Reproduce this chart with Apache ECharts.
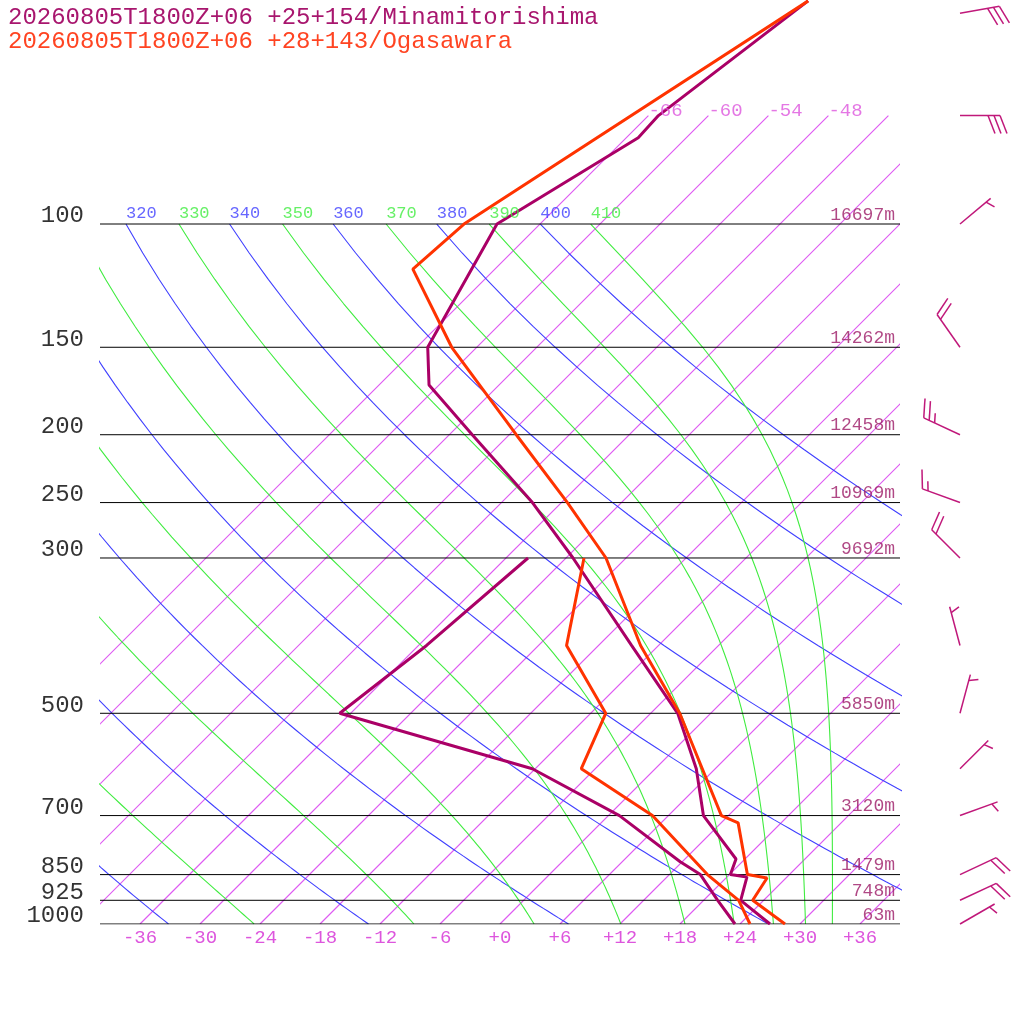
<!DOCTYPE html>
<html><head><meta charset="utf-8">
<script src="https://cdn.jsdelivr.net/npm/echarts@6/dist/echarts.min.js"></script>
<style>html,body{margin:0;padding:0;background:#fff}#c{width:1024px;height:1024px}</style>
</head><body><div id="c"></div>
<script>
// ---------- data ----------
const titleLines = ['20260805T1800Z+06 +25+154/Minamitorishima', '20260805T1800Z+06 +28+143/Ogasawara'];
const pressureLevels = [100, 150, 200, 250, 300, 500, 700, 850, 925, 1000];
const levelHeights = ['16697m', '14262m', '12458m', '10969m', '9692m', '5850m', '3120m', '1479m', '748m', '63m'];
const tempTicks = [-36, -30, -24, -18, -12, -6, 0, 6, 12, 18, 24, 30, 36];
const isotherms = [-66, -60, -54, -48, -42, -36, -30, -24, -18, -12, -6, 0, 6, 12, 18, 24, 30, 36];
const isothermLabels = [-66, -60, -54, -48];
const dryAdiabats = [240, 260, 280, 300, 320, 340, 360, 380, 400];
const dryLabels = [320, 340, 360, 380, 400];
const moistAdiabats = [250, 270, 290, 310, 330, 350, 370, 390, 410];
const moistLabels = [330, 350, 370, 390, 410];

// Minamitorishima
const minaP = [48, 70, 75.3, 100, 150, 169.8, 200, 250, 300, 400, 500, 600, 700, 807.5, 850, 857, 925, 1000];
const minaT = [-61.5, -65.0, -64.8, -70.3, -64.9, -61.0, -51.7, -38.9, -29.3, -14.7, -3.3, 4.1, 9.5, 17.1, 18.1, 20.0, 21.7, 27.0];
const minaTdP = [300, 400, 500, 600, 700, 815, 850, 925, 1000];
const minaTd = [-33.8, -35.2, -37.1, -12.3, 1.1, 11.8, 15.1, 19.4, 23.5];
// Ogasawara
const ogaP = [48, 100, 116, 150, 200, 250, 300, 400, 500, 600, 700, 717, 850, 859.5, 925, 1000];
const ogaT = [-61.5, -73.6, -74.2, -62.5, -47.3, -35.4, -26.0, -13.8, -3.1, 4.7, 11.3, 13.7, 19.8, 22.1, 22.9, 28.5];
const ogaTdP = [300, 400, 500, 600, 700, 850, 925, 1000];
const ogaTd = [-28.2, -21.2, -10.5, -7.4, 4.4, 15.8, 21.5, 25.0];
// winds (Minamitorishima)
const windP = [50, 70, 100, 150, 200, 250, 300, 400, 500, 600, 700, 850, 925, 1000];
const windDir = [80, 90, 50, 325, 295, 290, 315, 345, 15, 45, 70, 65, 65, 60];
const windSpd = [30, 30, 5, 20, 25, 15, 20, 5, 5, 5, 5, 20, 20, 5];

// ---------- diagram geometry ----------
const P_TOP = 47.86;           // pressure at top of plot
const SKEW = 30.4;             // 45 degree skew (deg per ln unit)
const ISO_TOP = 70, AD_TOP = 100;
function sx(T, p) { return T + SKEW * Math.log(1000 / p); }

const FONT = 'Liberation Mono';
const C_MINA = '#aa0066', C_OGA = '#ff3300';
const C_ISO = 'rgb(222, 90, 242)', C_DRY = 'rgb(64, 64, 255)', C_MOIST = 'rgb(64, 236, 64)';

const samplePs = [];
for (let p = 1000; p >= AD_TOP; p -= 10) samplePs.push(p);

function thetaESat(Tc, p) {
  const TK = Tc + 273.15;
  const es = 6.112 * Math.exp(17.67 * Tc / (Tc + 243.5));
  const r = 622 * es / (p - es);
  return TK * Math.pow(1000 / p, 0.2854 * (1 - 0.00028 * r)) *
    Math.exp((3.376 / TK - 0.00254) * r * (1 + 0.00081 * r));
}
function moistCurve(thE) {
  const out = []; let hi = 45;
  for (const p of samplePs) {
    let lo = -170, h = hi;
    for (let k = 0; k < 60; k++) {
      const m = (lo + h) / 2;
      if (thetaESat(m, p) > thE) h = m; else lo = m;
    }
    const T = (lo + h) / 2;
    out.push([sx(T, p), p]);
    hi = T + 1;
  }
  return out;
}
function dryT(th, p) { return th * Math.pow(p / 1000, 0.2857) - 273.15; }

const series = [];
function lineSeries(data, color, width, z) {
  return { type: 'line', data, symbol: 'none', silent: true, animation: false, color: color,
    lineStyle: { color, width }, z: z || 2, clip: true };
}
// isotherms: straight lines drawn through the axes' coordinate system
series.push({
  type: 'custom', coordinateSystem: 'cartesian2d', silent: true, animation: false, clip: true, z: 1,
  data: isotherms.map(T => [T]),
  renderItem: function (params, api) {
    const T = api.value(0);
    const a = api.coord([sx(T, 1000), 1000]);
    const b = api.coord([sx(T, ISO_TOP), ISO_TOP]);
    return { type: 'line', shape: { x1: a[0], y1: a[1], x2: b[0], y2: b[1] },
      style: { stroke: C_ISO, lineWidth: 1.2, opacity: 1 } };
  }
});
dryAdiabats.forEach(th => series.push(lineSeries(samplePs.map(p => [sx(dryT(th, p), p), p]), C_DRY, 1.1, 2)));
const moistCurves = moistAdiabats.map(moistCurve);
moistCurves.forEach(c => series.push(lineSeries(c, C_MOIST, 1.1, 2)));
pressureLevels.forEach(p => series.push(lineSeries([[-40, p], [40, p]], '#000', 1, 3)));

function labelSeries(data, color, size, pos, dist, offset) {
  return { type: 'scatter', data, symbolSize: 0, silent: true, animation: false, clip: false, z: 6,
    label: { show: true, position: pos, distance: dist, offset, color, fontSize: size, fontFamily: FONT,
      formatter: d => d.data[2] } };
}
series.push(labelSeries(isothermLabels.map(T => [sx(T, ISO_TOP), ISO_TOP, '-' + Math.abs(T)]), '#dd55dd', 19, 'right', 0, [0, -5]));
series.push(labelSeries(dryLabels.map(th => [sx(dryT(th, AD_TOP), AD_TOP), AD_TOP, String(th)]), C_DRY, 17, 'right', 0, [0, -11]));
series.push(labelSeries(moistLabels.map(th => {
  const c = moistCurves[moistAdiabats.indexOf(th)]; return [c[c.length - 1][0], AD_TOP, String(th)];
}), C_MOIST, 17, 'right', 0, [0, -11]));
series.push(labelSeries(pressureLevels.map(p => [-40, p, String(p)]), '#000', 24, 'left', 16, [0, -8]));
series.push(labelSeries(pressureLevels.map((p, i) => [40, p, levelHeights[i]]), '#9c1a66', 18, 'left', 5, [0, -9]));

function profile(ps, ts, color) {
  return { type: 'line', data: ps.map((p, i) => [sx(ts[i], p), p]), symbol: 'none', silent: true, color: color,
    animation: false, lineStyle: { color, width: 3 }, z: 5, clip: true };
}
series.push(profile(minaP, minaT, C_MINA));
series.push(profile(minaTdP, minaTd, C_MINA));
series.push(profile(ogaP, ogaT, C_OGA));
series.push(profile(ogaTdP, ogaTd, C_OGA));

series.push({
  type: 'custom', coordinateSystem: 'cartesian2d', silent: true, animation: false, clip: false, z: 6,
  data: windP.map((p, i) => [40, p, windDir[i], windSpd[i]]),
  renderItem: function (params, api) {
    const pt = api.coord([api.value(0), api.value(1)]);
    const bx = pt[0] + 60, by = pt[1];
    const r = api.value(2) * Math.PI / 180, spd = api.value(3);
    const u = [Math.sin(r), -Math.cos(r)], n = [-u[1], u[0]];
    const L = 40, sp = 6;
    const fv = [7 * u[0] + 18 * n[0], 7 * u[1] + 18 * n[1]];
    const segs = [[bx, by, bx + u[0] * L, by + u[1] * L]];
    const full = Math.floor(spd / 10), half = (spd % 10) >= 5 ? 1 : 0;
    let pos = (full === 0 && half) ? L - sp : L;
    for (let i = 0; i < full; i++) {
      const s = [bx + u[0] * pos, by + u[1] * pos];
      segs.push([s[0], s[1], s[0] + fv[0], s[1] + fv[1]]); pos -= sp;
    }
    if (half) {
      const s = [bx + u[0] * pos, by + u[1] * pos];
      segs.push([s[0], s[1], s[0] + fv[0] / 2, s[1] + fv[1] / 2]);
    }
    return { type: 'group', children: segs.map(s => ({ type: 'line',
      shape: { x1: s[0], y1: s[1], x2: s[2], y2: s[3] },
      style: { stroke: '#c0187a', lineWidth: 1.5 } })) };
  }
});

const chart = echarts.init(document.getElementById('c'), null, { renderer: 'canvas' });
chart.setOption({
  animation: false,
  backgroundColor: '#fff',
  title: [
    { text: titleLines[0], left: 8, top: 6, padding: 0, textStyle: { fontFamily: FONT, fontSize: 24, fontWeight: 'normal', color: '#a8166e' } },
    { text: titleLines[1], left: 8, top: 30, padding: 0, textStyle: { fontFamily: FONT, fontSize: 24, fontWeight: 'normal', color: '#ff4422' } }
  ],
  grid: { left: 100, right: 124, top: 0, bottom: 100, containLabel: false },
  xAxis: {
    type: 'value', min: -40, max: 40,
    axisLine: { show: false }, axisTick: { show: false }, splitLine: { show: false },
    axisLabel: { customValues: tempTicks, margin: 4, color: '#dd55dd', fontSize: 19, fontFamily: FONT,
      formatter: v => (v >= 0 ? '+' : '') + v }
  },
  yAxis: {
    type: 'log', inverse: true, min: P_TOP, max: 1000,
    axisLine: { show: false }, axisTick: { show: false }, splitLine: { show: false }, axisLabel: { show: false }
  },
  series
});
</script></body></html>
